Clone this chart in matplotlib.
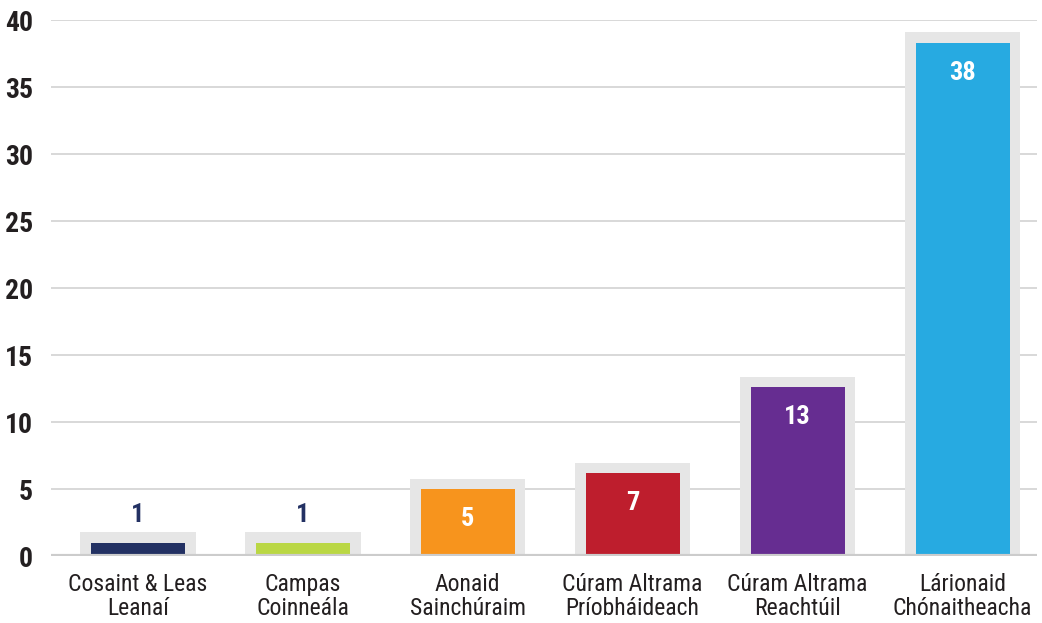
import matplotlib
matplotlib.use('Agg')
import matplotlib.pyplot as plt
from matplotlib import font_manager

categories = ['Cosaint & Leas\nLeanaí', 'Campas\nCoinneála', 'Aonaid\nSainchúraim',
              'Cúram Altrama\nPríobháideach', 'Cúram Altrama\nReachtúil', 'Lárionaid\nChónaitheacha']
heights = [1.0, 1.0, 5.0, 6.2, 12.6, 38.3]
labels = ['1', '1', '5', '7', '13', '38']
colors = ['#233163', '#bad744', '#f7941d', '#be1e2d', '#662d91', '#27aae1']

# pick a narrow font if one is around
names = {f.name for f in font_manager.fontManager.ttflist}
font = 'Roboto'
for cand in ['Liberation Sans Narrow', 'Roboto Condensed', 'DejaVu Sans Condensed']:
    if cand in names:
        font = cand
        break
plt.rcParams['font.family'] = [font, 'DejaVu Sans']

fig = plt.figure(figsize=(10.42, 6.23), dpi=100)
ax = fig.add_axes([0.049, 0.107, 0.946, 0.8604])

x = list(range(len(categories)))
pad = 0.8
ax.bar(x, [h + pad for h in heights], width=0.70, color='#e6e6e6', zorder=2)
ax.bar(x, heights, width=0.57, color=colors, zorder=3)

for i, h in enumerate(heights):
    if h < 3:
        ax.annotate(labels[i], (i, h + pad), xytext=(0, 17), textcoords='offset pixels',
                    ha='center', va='center', color='#233163', fontsize=19, fontweight='bold')
    else:
        ax.annotate(labels[i], (i, h), xytext=(0, -30), textcoords='offset pixels',
                    ha='center', va='center', color='white', fontsize=19, fontweight='bold')

ax.axhline(0, color='#cccccc', lw=3, zorder=4)
ax.set_ylim(0, 40)
ax.set_xlim(-0.526, 5.45)
ax.set_yticks(range(0, 41, 5))
ax.yaxis.grid(True, color='#d5d5d5', lw=1.3, zorder=0)
ax.set_axisbelow(True)
ax.set_xticks(x)
ax.set_xticklabels(categories, fontsize=17, linespacing=1.05, color='#231f20')
for t in ax.get_yticklabels():
    t.set_fontsize(20)
    t.set_fontweight('bold')
    t.set_color('#231f20')
ax.tick_params(axis='y', length=0, pad=13)
ax.tick_params(axis='x', length=0, pad=12)
for s in ax.spines.values():
    s.set_visible(False)

fig.savefig('out.png', dpi=100)
